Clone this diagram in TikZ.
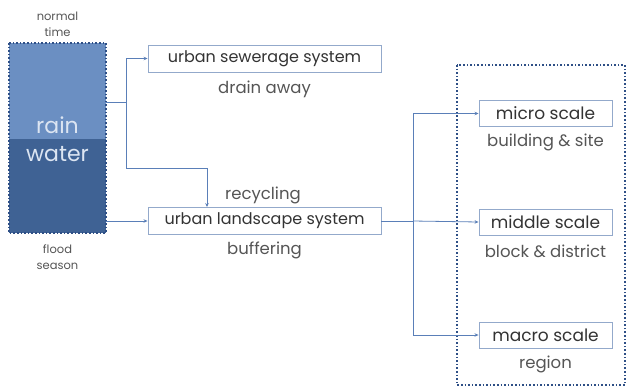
\documentclass[tikz,border=0pt]{standalone}
\usepackage{fontspec}
\setmainfont{Poppins}
\usetikzlibrary{arrows.meta}
\definecolor{lightrain}{HTML}{6B8FC2}
\definecolor{darkrain}{HTML}{3F6294}
\definecolor{rainborder}{HTML}{2E4F86}
\definecolor{linkblue}{HTML}{5A7FB8}
\definecolor{boxedge}{HTML}{93A9CB}
\definecolor{txt}{HTML}{333333}
\definecolor{subtxt}{HTML}{555555}
\definecolor{raintxt}{HTML}{DCE5F2}
\tikzset{
  sysbox/.style={draw=boxedge, line width=0.9pt, fill=white, minimum height=27pt, text=txt, font=\fontsize{16}{18}\selectfont, inner sep=0pt},
  scalebox/.style={sysbox, minimum width=133pt, minimum height=26pt, font=\fontsize{17}{19}\selectfont},
  sublabel/.style={text=subtxt, font=\fontsize{16.5}{18}\selectfont, inner sep=0pt},
  smalllabel/.style={text=subtxt, font=\fontsize{11.5}{12}\selectfont, inner sep=0pt},
  link/.style={draw=linkblue, line width=0.8pt, -{Stealth[length=4pt,width=3.5pt]}},
  plainlink/.style={draw=linkblue, line width=0.8pt},
  raintext/.style={text=raintxt, font=\fontsize{22}{24}\selectfont, inner sep=0pt}
}
\begin{document}
\begin{tikzpicture}[x=1pt,y=-1pt]
\useasboundingbox (0,0) rectangle (631,389);
% rain water box
\fill[lightrain] (9,43) rectangle (106,139);
\fill[darkrain] (9,139) rectangle (106,233);
\draw[rainborder, line width=1.6pt, dotted] (9,43) rectangle (106,233);
\coordinate (rainR1) at (106,102);
\coordinate (rainR2) at (106,221);
\node[raintext] (rain) at (57.5,125) {rain};
\node[raintext] (water) at (57.5,154) {water};
\node[smalllabel] (normal) at (57.5,16) {normal};
\node[smalllabel] (time) at (57.5,32) {time};
\node[smalllabel] (flood) at (57.5,249) {flood};
\node[smalllabel] (season) at (57.5,266) {season};
% dotted scale box
\draw[rainborder, line width=1.6pt, dotted] (457,65) rectangle (625,385);
% system boxes
\node[sysbox, minimum width=233pt] (sewer) at (264.5,58.5) {urban sewerage system};
\node[sublabel] (drain) at (264.5,89) {drain away};
\node[sysbox, minimum width=233pt] (land) at (264.5,221) {urban landscape system};
\node[sublabel] (recyc) at (263,195) {recycling};
\node[sublabel] (buff) at (264.5,250) {buffering};
% scale boxes
\node[scalebox] (micro) at (545.5,113.5) {micro scale};
\node[sublabel] (bsite) at (545.5,142) {building \& site};
\node[scalebox] (middle) at (545.5,222) {middle scale};
\node[sublabel] (bdist) at (545.5,251) {block \& district};
\node[scalebox] (macro) at (545.5,335) {macro scale};
\node[sublabel] (region) at (545.5,364) {region};
% connectors
\coordinate (jA) at (126,102);
\coordinate (jB) at (126,168);
\coordinate (jC) at (207,168);
\draw[plainlink] (rainR1) -- (jA);
\draw[link] (jA) |- (sewer.west);
\draw[plainlink] (jA) -- (jB) -- (jC);
\draw[link] (jC) -- (jC |- land.north);
\draw[link] (rainR2) -- (land.west);
\coordinate (jR) at (413,221);
\draw[plainlink] (land.east) -- (jR);
\draw[link] (jR) |- (micro.west);
\draw[link] (jR) |- (macro.west);
\draw[link] (jR) -- (middle.west);
\end{tikzpicture}
\end{document}
